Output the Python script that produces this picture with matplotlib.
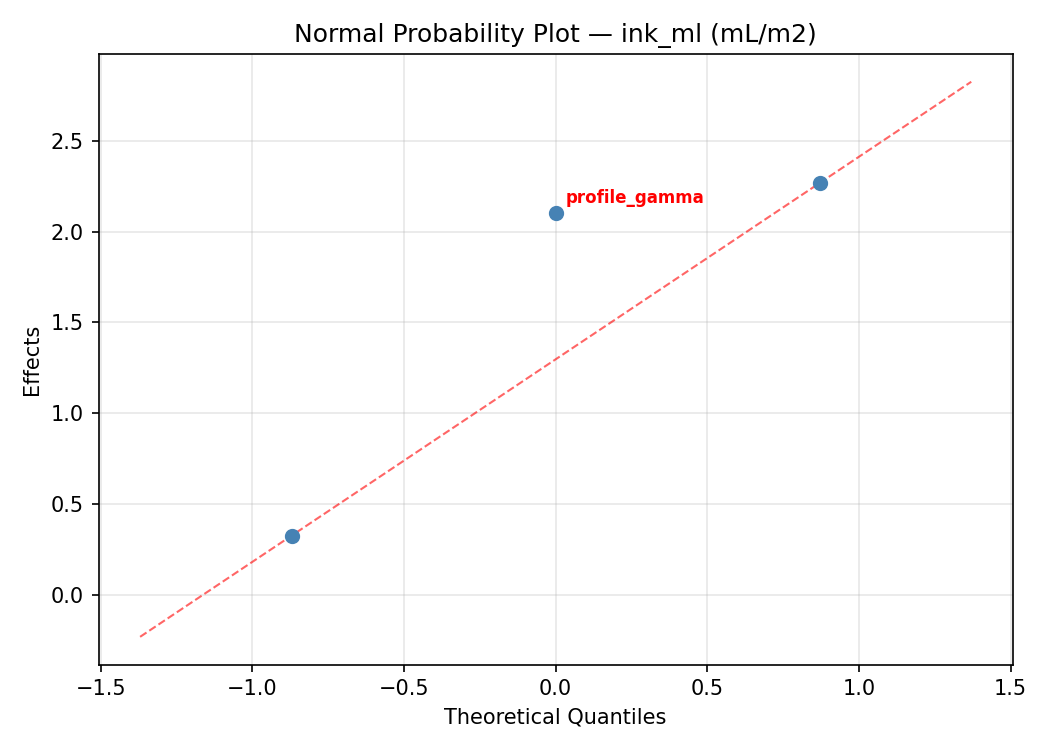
import matplotlib
matplotlib.use("Agg")
import matplotlib.pyplot as plt
import numpy as np

factor_names = ["factor_a", "profile_gamma", "factor_c"]
theoretical_q = [-0.870, 0.0, 0.870]
effects = [0.327, 2.100, 2.267]
highlight = ["profile_gamma"]
line_x = [-1.37, 1.37]

fig, ax = plt.subplots(figsize=(7, 5), dpi=150)

q = np.array(theoretical_q)
e = np.array(effects)
slope = (e[-1] - e[0]) / (q[-1] - q[0])
intercept = e[0] - slope * q[0]
lx = np.array(line_x)
ax.plot(lx, intercept + slope * lx, "--", color="red", alpha=0.6, lw=1)
ax.scatter(q, e, s=40, color="steelblue", zorder=3)

for name, xq, ye in zip(factor_names, q, e):
    if name in highlight:
        ax.annotate(name, (xq, ye), xytext=(5, 5), textcoords="offset points",
                    fontsize=8, fontweight="bold", color="red")

ax.set_title("Normal Probability Plot — ink_ml (mL/m2)")
ax.set_xlabel("Theoretical Quantiles")
ax.set_ylabel("Effects")
ax.grid(True, alpha=0.3)
fig.tight_layout()
fig.savefig("out.png", dpi=150)
